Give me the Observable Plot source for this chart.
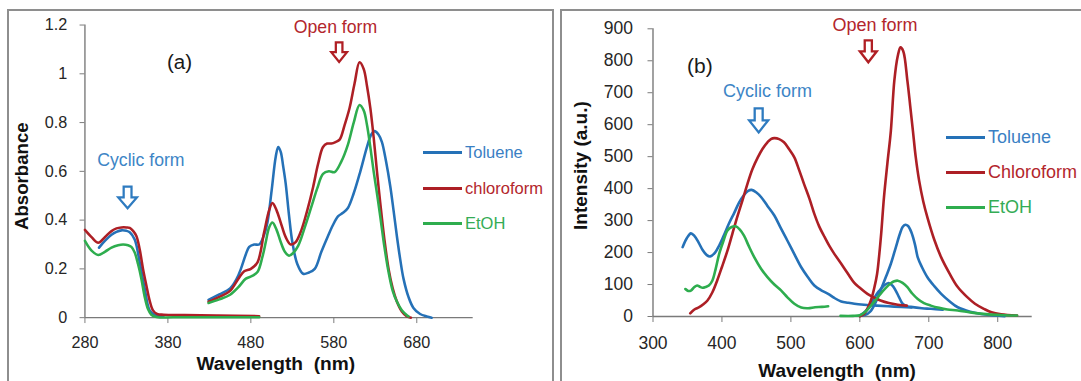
<!DOCTYPE html>
<html>
<head>
<meta charset="utf-8">
<script src="https://cdn.jsdelivr.net/npm/d3@7"></script>
<script src="https://cdn.jsdelivr.net/npm/@observablehq/plot@0.6"></script>
<style>
  html, body { margin: 0; padding: 0; background: #fff; overflow: hidden; }
  #page { position: relative; width: 1081px; height: 381px; overflow: hidden; background: #fff;
          font-family: "Liberation Sans", Arial, sans-serif; }
  .panel { position: absolute; box-sizing: border-box; border: 2px solid #8e8e8e; overflow: hidden; background: #fff; }
  .legend-item { position: absolute; display: flex; align-items: center; white-space: nowrap; }
  .legend-item .swatch { width: 39px; height: 3px; margin-right: 3px; }
</style>
</head>
<body>
<div id="page">
  <div class="panel" id="panelA" style="left:7px; top:9px; width:547px; height:400px;"></div>
  <div class="panel" id="panelB" style="left:560px; top:9px; width:560px; height:400px;"></div>
</div>
<script>
// ---------- Data ----------
const seriesA = ["Toluene", "chloroform", "EtOH"];
const seriesB = ["Toluene", "Chloroform", "EtOH"];
const lineColors = ["#2571B7", "#AD1F25", "#2EAD4E"];
const textColors = ["#3A80C4", "#B3262C", "#34AC55"];

const aXTicks = [280, 380, 480, 580, 680];
const aYTicks = [0, 0.2, 0.4, 0.6, 0.8, 1, 1.2];
const bXTicks = [300, 400, 500, 600, 700, 800];
const bYTicks = [0, 100, 200, 300, 400, 500, 600, 700, 800, 900];

// Panel (a): absorbance, [wavelength nm, absorbance]
const aTolueneCyclic = [[297,0.287],[304,0.315],[312,0.34],[318,0.352],[324,0.358],[330,0.356],[334,0.35],[340,0.32],[346,0.227],[352,0.12],[358,0.03],[365,0.01],[375,0.008]];
const aChloroformCyclic = [[280,0.36],[288,0.33],[296,0.307],[304,0.33],[312,0.355],[318,0.366],[324,0.37],[330,0.37],[334,0.368],[338,0.356],[342,0.335],[346,0.28],[350,0.2],[354,0.133],[358,0.07],[362,0.03],[367,0.015],[375,0.012],[400,0.011],[440,0.009],[490,0.006]];
const aEtOHCyclic = [[280,0.315],[288,0.275],[296,0.257],[304,0.27],[312,0.287],[320,0.297],[326,0.3],[332,0.297],[336,0.29],[340,0.267],[344,0.22],[348,0.16],[352,0.086],[356,0.035],[360,0.012],[366,0.003],[400,0.002],[490,0.002]];
const aTolueneOpen = [[429,0.073],[442,0.095],[455,0.12],[463,0.16],[468,0.2],[474,0.26],[478,0.29],[484,0.3],[490,0.3],[496,0.34],[500,0.39],[505,0.52],[510,0.66],[513,0.7],[516,0.68],[519,0.62],[522,0.55],[526,0.42],[530,0.31],[536,0.22],[543,0.18],[550,0.185],[557,0.2],[565,0.27],[573,0.335],[579,0.38],[585,0.415],[591,0.43],[597,0.45],[604,0.51],[612,0.6],[620,0.7],[625,0.75],[629,0.765],[634,0.75],[638,0.72],[643,0.64],[648,0.54],[652,0.44],[656,0.335],[660,0.24],[664,0.16],[670,0.085],[676,0.04],[684,0.015],[692,0.005],[698,0]];
const aChloroformOpen = [[429,0.065],[442,0.085],[455,0.11],[465,0.16],[472,0.19],[480,0.2],[488,0.227],[496,0.35],[502,0.44],[506,0.47],[511,0.44],[516,0.39],[522,0.33],[528,0.3],[534,0.31],[541,0.36],[548,0.44],[555,0.535],[561,0.63],[567,0.7],[572,0.714],[577,0.714],[582,0.72],[587,0.73],[593,0.79],[599,0.86],[605,0.96],[611,1.047],[616,1.02],[620,0.95],[624,0.86],[628,0.74],[632,0.6],[636,0.47],[641,0.32],[646,0.2],[651,0.12],[656,0.066],[662,0.025],[668,0.005],[673,0]];
const aEtOHOpen = [[429,0.06],[442,0.075],[455,0.094],[465,0.125],[474,0.16],[481,0.17],[488,0.187],[494,0.25],[498,0.31],[502,0.37],[506,0.39],[511,0.36],[516,0.31],[521,0.27],[526,0.254],[531,0.265],[537,0.294],[545,0.37],[553,0.455],[560,0.53],[567,0.59],[574,0.6],[581,0.597],[589,0.64],[597,0.71],[604,0.8],[611,0.872],[616,0.85],[620,0.79],[624,0.7],[628,0.6],[632,0.51],[636,0.415],[641,0.29],[646,0.187],[651,0.11],[656,0.066],[662,0.03],[668,0.01],[670,0.005]];

// Panel (b): emission intensity, [wavelength nm, intensity a.u.]
const bTolueneCyclic = [[343,217],[349,245],[355,260],[360,252],[366,232],[372,208],[378,192],[383,188],[390,200],[396,222],[403,255],[410,290],[418,325],[425,357],[432,380],[438,393],[443,396],[450,388],[457,373],[466,346],[476,316],[485,278],[495,237],[505,195],[515,154],[525,122],[534,97],[544,82],[554,71],[563,58],[573,47],[583,43],[592,40],[606,37],[625,34],[650,31],[675,28]];
const bTolueneBand = [[600,3],[610,20],[620,55],[628,80],[635,97],[642,105],[648,95],[652,81],[657,60],[662,40],[668,32],[674,30],[690,26],[703,24],[720,21]];
const bTolueneOpen = [[600,2],[608,5],[615,15],[622,40],[630,81],[638,125],[645,165],[652,215],[658,258],[662,280],[666,287],[670,283],[675,262],[680,225],[684,185],[690,155],[698,123],[708,95],[718,71],[730,48],[742,29],[760,15],[776,8],[795,3],[810,1]];
const bChloroformCyclic = [[354,10],[360,22],[367,29],[373,38],[379,50],[386,75],[393,112],[400,155],[408,206],[415,258],[422,310],[430,365],[437,415],[444,460],[452,498],[459,525],[466,545],[471,555],[476,558],[483,555],[490,545],[497,525],[505,498],[512,458],[519,415],[527,368],[534,321],[541,282],[549,248],[556,220],[563,196],[573,165],[583,133],[592,105],[600,90],[611,71],[620,60],[630,50],[642,42],[655,37],[668,34]];
const bChloroformOpen = [[600,1],[606,8],[611,25],[616,50],[621,90],[625,133],[628,190],[631,260],[635,373],[640,480],[645,581],[650,737],[655,815],[659,842],[663,830],[669,737],[673,660],[677,581],[681,500],[686,425],[692,360],[698,310],[708,240],[718,185],[730,135],[742,92],[755,62],[767,40],[780,24],[791,13],[805,7],[828,3]];
const bEtOHCyclic = [[347,86],[351,80],[355,81],[360,92],[364,97],[368,93],[372,90],[376,92],[381,97],[386,112],[391,150],[396,196],[402,235],[408,269],[414,280],[420,282],[426,272],[432,253],[439,220],[447,185],[456,152],[466,123],[476,100],[486,81],[495,60],[505,40],[515,28],[525,26],[535,29],[545,30],[554,32]];
const bEtOHOpen = [[572,2],[590,2],[600,4],[608,15],[616,34],[623,52],[630,71],[637,88],[645,104],[650,110],[655,112],[662,105],[669,92],[676,72],[684,55],[693,42],[703,34],[715,27],[727,22],[742,19],[760,13],[775,9],[791,6],[810,4],[828,3]];

// ---------- Build tables ----------
function rows(pairs, series, seg) {
  return pairs.map(([nm, v]) => ({nm, v, series, seg}));
}
const tableA = [
  ...rows(aTolueneCyclic, seriesA[0], "t1"), ...rows(aTolueneOpen, seriesA[0], "t2"),
  ...rows(aChloroformCyclic, seriesA[1], "c1"), ...rows(aChloroformOpen, seriesA[1], "c2"),
  ...rows(aEtOHCyclic, seriesA[2], "e1"), ...rows(aEtOHOpen, seriesA[2], "e2")
];
const tableB = [
  ...rows(bTolueneCyclic, seriesB[0], "t1"), ...rows(bTolueneBand, seriesB[0], "t2"), ...rows(bTolueneOpen, seriesB[0], "t3"),
  ...rows(bChloroformCyclic, seriesB[1], "c1"), ...rows(bChloroformOpen, seriesB[1], "c2"),
  ...rows(bEtOHCyclic, seriesB[2], "e1"), ...rows(bEtOHOpen, seriesB[2], "e2")
];

const axisColor = "#7a7a7a";
const tickText = "#262626";
const font = "'Liberation Sans', Arial, sans-serif";
const blueText = "#3D85C6";
const redText = "#B3262C";

// Hollow block arrow (pointing down), placed through the plot's own scales
function blockArrow(xv, yv, color, w, h) {
  return (index, scales) => {
    const cx = scales.x(xv), cy = scales.y(yv);
    const sw = w * 0.42, hh = h * 0.5;
    const d = `M${-sw/2},${-h/2} H${sw/2} V${-h/2 + hh} H${w/2} L0,${h/2} L${-w/2},${-h/2 + hh} H${-sw/2} Z`;
    return d3.create("svg:path")
      .attr("d", d)
      .attr("transform", `translate(${cx},${cy})`)
      .attr("fill", "#fff")
      .attr("stroke", color)
      .attr("stroke-width", 2.3)
      .attr("stroke-linejoin", "miter")
      .node();
  };
}

// ---------- Panel (a) ----------
const plotA = Plot.plot({
  width: 553, height: 381,
  marginLeft: 86, marginRight: 71.6, marginTop: 25, marginBottom: 58,
  x: {domain: [280, 748]},
  y: {domain: [0, 1.2]},
  color: {domain: seriesA, range: lineColors},
  style: {position: "absolute", left: "-9px", top: "-11px", fontFamily: font, fontSize: "16.5px", background: "transparent", overflow: "visible"},
  marks: [
    Plot.ruleX([280], {stroke: axisColor, strokeWidth: 1.4}),
    Plot.ruleY([0], {stroke: axisColor, strokeWidth: 1.4}),
    Plot.axisX({ticks: aXTicks, tickSize: 6, tickPadding: 13, stroke: axisColor, fill: tickText, label: null, fontSize: 16.5}),
    Plot.axisY({ticks: aYTicks, tickSize: 5, tickPadding: 13, stroke: axisColor, fill: tickText, label: null, fontSize: 16.5,
                tickFormat: d => String(Math.round(d * 10) / 10)}),
    Plot.line(tableA, {x: "nm", y: "v", z: "seg", stroke: "series", strokeWidth: 2.6, curve: "catmull-rom"}),
    Plot.text(["Absorbance"], {x: 204, y: 0.58, rotate: -90, fontWeight: "bold", fontSize: 19, fill: "#111"}),
    Plot.text(["Wavelength\u00A0 (nm)"], {x: 510, y: -0.189, fontWeight: "bold", fontSize: 19.5, fill: "#111"}),
    Plot.text(["(a)"], {x: 394, y: 1.048, fontSize: 21, fill: "#1a1a1a"}),
    Plot.text(["Open form"], {x: 582, y: 1.19, fontSize: 18, fill: redText}),
    blockArrow(587, 1.087, "#B01F24", 16, 20),
    Plot.text(["Cyclic form"], {x: 347.5, y: 0.644, fontSize: 18, fill: blueText}),
    blockArrow(332, 0.491, "#2E7BC0", 19, 22)
  ]
});
document.getElementById("panelA").appendChild(plotA);

// ---------- Panel (b) ----------
const plotB = Plot.plot({
  width: 521, height: 381,
  marginLeft: 92.5, marginRight: 49.3, marginTop: 28.3, marginBottom: 65,
  x: {domain: [300, 850]},
  y: {domain: [0, 900]},
  color: {domain: seriesB, range: lineColors},
  style: {position: "absolute", left: "-2px", top: "-11px", fontFamily: font, fontSize: "17.5px", background: "transparent", overflow: "visible"},
  marks: [
    Plot.ruleX([300], {stroke: axisColor, strokeWidth: 1.4}),
    Plot.ruleY([0], {stroke: axisColor, strokeWidth: 1.4}),
    Plot.axisX({ticks: bXTicks, tickSize: 6, tickPadding: 14.5, stroke: axisColor, fill: tickText, label: null, fontSize: 17.5}),
    Plot.axisY({ticks: bYTicks, tickSize: 5, tickPadding: 15, stroke: axisColor, fill: tickText, label: null, fontSize: 17.5}),
    Plot.line(tableB, {x: "nm", y: "v", z: "seg", stroke: "series", strokeWidth: 2.6, curve: "catmull-rom"}),
    Plot.text(["Intensity (a.u.)"], {x: 195, y: 472, rotate: -90, fontWeight: "bold", fontSize: 19, fill: "#111"}),
    Plot.text(["Wavelength\u00A0 (nm)"], {x: 567, y: -169, fontWeight: "bold", fontSize: 19, fill: "#111"}),
    Plot.text(["(b)"], {x: 368, y: 784, fontSize: 21, fill: "#1a1a1a"}),
    Plot.text(["Open form"], {x: 622, y: 912, fontSize: 18, fill: redText}),
    blockArrow(613, 828, "#B01F24", 17, 22),
    Plot.text(["Cyclic form"], {x: 466, y: 706, fontSize: 18, fill: blueText}),
    blockArrow(454, 612, "#2E7BC0", 19, 24)
  ]
});
document.getElementById("panelB").appendChild(plotB);

// ---------- Legends (HTML) ----------
function addLegend(panelId, names, originX, originY, left, tops, fontSize) {
  const panel = document.getElementById(panelId);
  names.forEach((name, i) => {
    const item = document.createElement("div");
    item.className = "legend-item";
    item.style.left = (left - originX) + "px";
    item.style.top = (tops[i] - originY - 11) + "px";
    item.style.height = "22px";
    item.style.fontSize = fontSize + "px";
    const sw = document.createElement("div");
    sw.className = "swatch";
    sw.style.background = lineColors[i];
    const tx = document.createElement("span");
    tx.textContent = name;
    tx.style.color = textColors[i];
    item.appendChild(sw);
    item.appendChild(tx);
    panel.appendChild(item);
  });
}
addLegend("panelA", seriesA, 9, 11, 423, [152, 188, 223], 16.5);
addLegend("panelB", seriesB, 562, 11, 946, [137, 172, 207], 18);
</script>
</body>
</html>
